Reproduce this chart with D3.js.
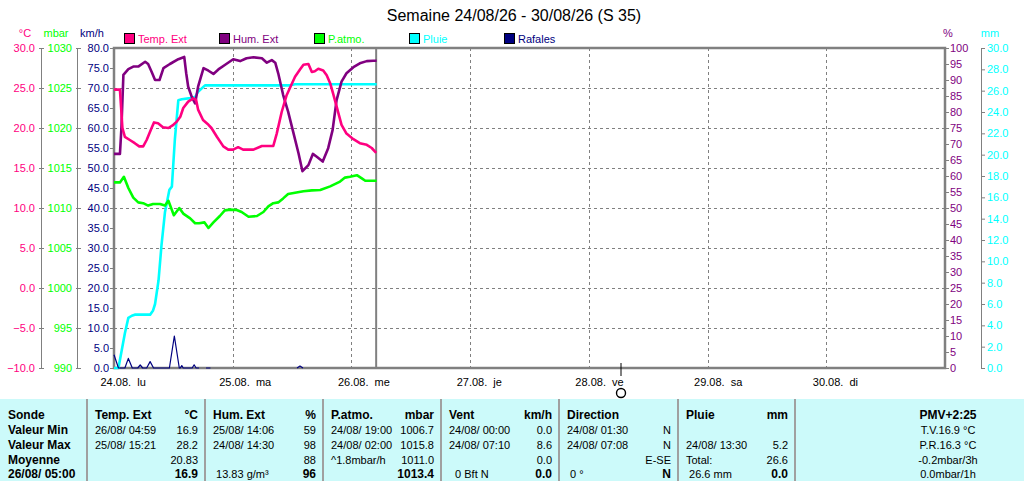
<!DOCTYPE html>
<html>
<head>
<meta charset="utf-8">
<script src="https://cdn.jsdelivr.net/npm/d3@7"></script>
<style>
body { margin: 0; background: #fff; }
svg { display: block; font-family: "Liberation Sans", Arial, sans-serif; }
</style>
</head>
<body>
<div id="chart"></div>
<script>
// Semaine 24/08/26 - 30/08/26, hours from 24/08 00:00
const dayLabels = ['24.08.  lu', '25.08.  ma', '26.08.  me', '27.08.  je', '28.08.  ve', '29.08.  sa', '30.08.  di'];
const nowHour = 53;       // 26/08 05:00
const markerHour = 102.5; // little circle on the time axis

// [hour, value]
const temp = [
  [0, 24.8], [1.2, 24.8], [1.7, 20.0], [2.2, 18.9], [3.2, 18.5], [4.2, 18.1], [5.1, 17.7], [5.9, 17.7],
  [6.6, 18.5], [7.6, 20.0], [8.1, 20.7], [8.9, 20.6], [9.9, 20.1], [11.0, 20.0], [12.0, 20.4], [12.7, 20.8],
  [13.4, 21.4], [14.0, 22.5], [15.0, 23.3], [16.0, 23.7], [16.6, 23.5], [17.0, 22.3], [18.0, 21.0], [19.1, 20.4],
  [19.7, 20.0], [20.8, 18.9], [22.1, 17.7], [23.1, 17.3], [24.1, 17.3], [25.1, 17.6], [26.1, 17.3], [28.2, 17.3],
  [29.9, 17.75], [32.2, 17.75], [32.9, 19.3], [33.9, 22.0], [34.9, 24.1], [36.6, 26.4], [37.6, 27.3], [38.3, 27.9],
  [39.3, 28.0], [40.0, 27.0], [40.6, 27.1], [41.3, 27.4], [42.3, 27.2], [43.0, 26.6], [43.7, 25.6], [44.3, 24.3],
  [45.0, 22.7], [46.0, 20.4], [47.0, 19.3], [48.4, 18.6], [49.7, 18.1], [51.1, 17.9], [52.1, 17.5], [53.0, 16.9]
];
const hum = [
  [0, 66.9], [1.2, 66.9], [1.5, 75.0], [1.9, 91.6], [2.9, 93.4], [3.9, 94.2], [4.9, 94.2], [6.3, 95.7],
  [6.9, 95.0], [7.6, 92.6], [8.3, 90.0], [9.2, 90.0], [10.0, 93.7], [11.3, 95.0], [13.0, 96.5], [14.2, 97.2],
  [14.6, 92.1], [15.0, 87.9], [15.7, 84.8], [16.4, 82.7], [17.0, 87.9], [18.1, 93.7], [19.1, 92.9], [20.1, 91.9],
  [21.1, 93.3], [22.4, 94.7], [24.1, 96.5], [25.5, 95.9], [26.8, 96.8], [28.2, 97.1], [29.9, 96.8], [30.9, 95.4],
  [31.9, 96.2], [32.6, 95.4], [33.2, 92.1], [34.2, 85.3], [35.2, 80.1], [36.3, 73.3], [37.3, 67.1], [38.1, 61.5],
  [39.3, 63.4], [40.2, 66.9], [41.0, 66.0], [42.2, 64.5], [43.3, 68.7], [44.2, 74.4], [45.0, 83.7], [46.0, 89.5],
  [47.0, 92.1], [48.4, 94.0], [49.7, 95.2], [51.1, 95.9], [52.4, 96.0], [53.1, 96.0]
];
const patmo = [
  [0, 1013.2], [1.2, 1013.2], [2.0, 1013.9], [2.9, 1012.5], [3.9, 1011.3], [4.9, 1010.7], [5.9, 1010.6],
  [6.9, 1010.3], [7.9, 1010.5], [9.3, 1010.5], [10.3, 1010.3], [11.0, 1010.9], [12.1, 1009.1], [13.2, 1010.0],
  [14.0, 1009.3], [15.4, 1008.7], [16.4, 1008.1], [17.2, 1008.1], [18.3, 1008.2], [19.1, 1007.5], [20.1, 1008.2],
  [21.4, 1009.0], [22.4, 1009.7], [23.5, 1009.8], [24.8, 1009.75], [25.8, 1009.5], [27.2, 1008.9], [28.9, 1009.0],
  [30.2, 1009.5], [31.2, 1010.2], [32.2, 1010.6], [33.2, 1010.7], [34.2, 1011.2], [35.2, 1011.75], [36.6, 1011.9],
  [38.3, 1012.1], [40.0, 1012.2], [41.7, 1012.25], [43.7, 1012.7], [45.7, 1013.3], [46.7, 1013.8], [47.7, 1013.9],
  [49.1, 1014.1], [50.1, 1013.7], [50.8, 1013.4], [53.1, 1013.4]
];
const pluie = [
  [0, 0], [0.9, 0], [2.2, 3.25], [2.9, 4.7], [3.6, 4.9], [4.2, 5.0], [7.3, 5.0], [7.9, 5.4], [8.3, 6.0],
  [9.0, 8.2], [9.6, 11.5], [10.3, 14.6], [11.2, 16.7], [11.7, 17.0], [12.3, 21.4], [13.0, 25.1], [13.7, 25.2],
  [15.4, 25.3], [16.4, 25.4], [17.0, 25.9], [18.4, 26.5], [35.6, 26.5], [36.6, 26.6], [53.1, 26.6]
];
// null = no value (gap in the line)
const rafales = [
  [0, 3.3], [0.9, 0], [2.2, 0], [2.9, 2.4], [3.7, 0], [4.8, 0], [5.3, 0.75], [5.8, 0], [6.6, 0], [7.3, 1.6],
  [8.0, 0], [11.2, 0], [12.2, 8.0], [13.2, 0], [13.4, 0], [13.7, 0.6], [14.0, 0], [15.8, 0], [16.2, 0.8],
  [16.6, 0], [17.2, 0], [17.3, null], [18.6, 0], [19.5, 0], [19.6, null], [37.0, 0], [37.6, 0.5], [38.2, 0]
];

const legendNames = ['Temp. Ext', 'Hum. Ext', 'P.atmo.', 'Pluie', 'Rafales'];
const colors = ['#ff0080', '#800080', '#00ff00', '#00ffff', '#000080'];

const tempTicks = d3.range(-10, 30.1, 5);
const mbarTicks = d3.range(990, 1030.1, 5);
const kmhTicks = d3.range(0, 80.1, 5);
const humTicks = d3.range(0, 100.1, 5);
const mmTicks = d3.range(0, 30.1, 2);

// bottom table
const tableCols = [0, 87, 205, 323, 441, 559, 678, 795];
const tableHeads = [['Sonde', ''], ['Temp. Ext', '°C'], ['Hum. Ext', '%'], ['P.atmo.', 'mbar'], ['Vent', 'km/h'], ['Direction', ''], ['Pluie', 'mm']];
const rowMin = [['Valeur Min', ''], ['26/08/ 04:59', '16.9'], ['25/08/ 14:06', '59'], ['24/08/ 19:00', '1006.7'], ['24/08/ 00:00', '0.0'], ['24/08/ 01:30', 'N'], ['', '']];
const rowMax = [['Valeur Max', ''], ['25/08/ 15:21', '28.2'], ['24/08/ 14:30', '98'], ['24/08/ 02:00', '1015.8'], ['24/08/ 07:10', '8.6'], ['24/08/ 07:08', 'N'], ['24/08/ 13:30', '5.2']];
const rowAvg = [['Moyenne', ''], ['', '20.83'], ['', '88'], ['^1.8mbar/h', '1011.0'], ['', '0.0'], ['', 'E-SE'], ['Total:', '26.6']];
const rowNow = [['26/08/ 05:00', ''], ['', '16.9'], [' 13.83 g/m³', '96'], ['', '1013.4'], ['  0 Bft N', '0.0'], [' 0 °', 'N'], [' 26.6 mm', '0.0']];
const sideLines = ['PMV+2:25', 'T.V.16.9 °C', 'P.R.16.3 °C', '-0.2mbar/3h', '0.0mbar/1h'];

const width = 1024, height = 481;
const plot = {left: 114, right: 945, top: 48, bottom: 368};

const svg = d3.select('#chart').append('svg')
    .attr('width', width)
    .attr('height', height);

const x = d3.scaleLinear().domain([0, 168]).range([plot.left, plot.right]);
const yT = d3.scaleLinear().domain([-10, 30]).range([plot.bottom, plot.top]);
const yP = d3.scaleLinear().domain([990, 1030]).range([plot.bottom, plot.top]);
const yV = d3.scaleLinear().domain([0, 80]).range([plot.bottom, plot.top]);
const yH = d3.scaleLinear().domain([0, 100]).range([plot.bottom, plot.top]);
const yR = d3.scaleLinear().domain([0, 30]).range([plot.bottom, plot.top]);

// Title
svg.append('text')
    .attr('x', 514).attr('y', 21)
    .attr('text-anchor', 'middle')
    .style('font-size', '16px')
    .text('Semaine 24/08/26 - 30/08/26 (S 35)');

// Grid
const grid = svg.append('g').attr('stroke', '#808080').attr('stroke-dasharray', '3,3');
grid.selectAll('.hg').data(d3.range(10, 80, 10)).enter().append('line')
    .attr('x1', plot.left).attr('x2', plot.right)
    .attr('y1', d => yV(d) + 0.5).attr('y2', d => yV(d) + 0.5);
grid.selectAll('.vg').data(d3.range(24, 168, 24)).enter().append('line')
    .attr('x1', d => Math.round(x(d)) + 0.5).attr('x2', d => Math.round(x(d)) + 0.5)
    .attr('y1', plot.top).attr('y2', plot.bottom);

// Plot frame
svg.append('rect')
    .attr('x', plot.left).attr('y', plot.top)
    .attr('width', plot.right - plot.left).attr('height', plot.bottom - plot.top)
    .attr('fill', 'none').attr('stroke', '#808080').attr('stroke-width', 2.5);

// current time
svg.append('line')
    .attr('x1', x(nowHour)).attr('x2', x(nowHour))
    .attr('y1', plot.top).attr('y2', plot.bottom)
    .attr('stroke', '#808080').attr('stroke-width', 2);

// Axes
function drawAxis(cfg) {
    const g = svg.append('g').attr('transform', `translate(${cfg.x},0)`);
    const axis = (cfg.right ? d3.axisRight(cfg.scale) : d3.axisLeft(cfg.scale))
        .tickValues(cfg.ticks)
        .tickFormat(cfg.format)
        .tickSizeOuter(0);
    g.call(axis).attr('font-family', null).attr('font-size', null);
    g.select('.domain').attr('stroke', cfg.domain ? '#808080' : 'none');
    g.selectAll('.tick line').attr('stroke', '#808080').attr('x1', cfg.t0).attr('x2', cfg.t1);
    g.selectAll('.tick text')
        .attr('x', cfg.tx)
        .attr('fill', cfg.color)
        .attr('text-anchor', cfg.right ? 'start' : 'end')
        .style('font-size', '11px');
}

drawAxis({x: 41, scale: yT, ticks: tempTicks, format: d3.format('.1f'), color: colors[0], domain: true, t0: -2, t1: 3, tx: -6});
drawAxis({x: 77, scale: yP, ticks: mbarTicks, format: d3.format('d'), color: colors[2], domain: true, t0: -1, t1: 4, tx: -5});
drawAxis({x: 114, scale: yV, ticks: kmhTicks, format: d3.format('.1f'), color: colors[4], domain: false, t0: -4, t1: 0, tx: -5});
drawAxis({x: 945, scale: yH, ticks: humTicks, format: d3.format('d'), color: colors[1], domain: false, right: true, t0: 0, t1: 4, tx: 5});
drawAxis({x: 981, scale: yR, ticks: mmTicks, format: d3.format('.1f'), color: colors[3], domain: true, right: true, t0: 0, t1: 4, tx: 6});

// unit labels
const units = [['°C', 25, colors[0]], ['mbar', 56, colors[2]], ['km/h', 92, colors[4]], ['%', 948, colors[1]], ['mm', 990, colors[3]]];
svg.selectAll('.unit').data(units).enter().append('text')
    .attr('x', d => d[1]).attr('y', 37)
    .attr('text-anchor', 'middle')
    .attr('fill', d => d[2])
    .style('font-size', '11px')
    .text(d => d[0]);

// Time axis
const xAxis = d3.axisBottom(x)
    .tickValues(d3.range(0, 168, 24))
    .tickFormat((d, i) => dayLabels[i])
    .tickSize(0);
const gx = svg.append('g')
    .attr('transform', `translate(0,${plot.bottom})`)
    .call(xAxis)
    .attr('font-family', null).attr('font-size', null);
gx.select('.domain').remove();
gx.selectAll('text')
    .attr('text-anchor', 'start')
    .attr('x', -14).attr('y', 18).attr('dy', null)
    .attr('fill', '#000')
    .style('font-size', '11px')
    .style('white-space', 'pre');

// time marker
svg.append('line')
    .attr('x1', x(markerHour)).attr('x2', x(markerHour))
    .attr('y1', 363).attr('y2', 376)
    .attr('stroke', '#000');
svg.append('circle')
    .attr('cx', x(markerHour)).attr('cy', 393).attr('r', 4.5)
    .attr('fill', 'none').attr('stroke', '#000').attr('stroke-width', 1.4);

// Lines
function drawLine(data, yScale, color, w) {
    const line = d3.line()
        .defined(d => d[1] !== null)
        .x(d => x(d[0]))
        .y(d => yScale(d[1]));
    svg.append('path')
        .datum(data)
        .attr('fill', 'none')
        .attr('stroke', color)
        .attr('stroke-width', w)
        .attr('stroke-linejoin', 'round')
        .attr('d', line);
}
drawLine(pluie, yR, colors[3], 2.6);
drawLine(patmo, yP, colors[2], 2.6);
drawLine(hum, yH, colors[1], 2.6);
drawLine(temp, yT, colors[0], 2.6);
drawLine(rafales, yV, colors[4], 1.2);

// Legend
const legend = svg.selectAll('.leg').data(legendNames).enter().append('g')
    .attr('transform', (d, i) => `translate(${124 + i * 95},33)`);
legend.append('rect')
    .attr('x', 0.5).attr('y', 0.5).attr('width', 10).attr('height', 10)
    .attr('fill', (d, i) => colors[i]).attr('stroke', '#000');
legend.append('text')
    .attr('x', 14).attr('y', 9.5)
    .attr('fill', (d, i) => colors[i])
    .style('font-size', '11px')
    .text(d => d);

// Table
const table = svg.append('g');
table.append('rect')
    .attr('x', 0).attr('y', 399).attr('width', width).attr('height', height - 399)
    .attr('fill', '#ccfafa');
table.selectAll('.sep').data(tableCols.slice(1)).enter().append('line')
    .attr('x1', d => d).attr('x2', d => d)
    .attr('y1', 399).attr('y2', height)
    .attr('stroke', '#a0a0a0').attr('stroke-width', 2);

const rows = [tableHeads, rowMin, rowMax, rowAvg, rowNow];
const rowY = [419, 434, 449, 464, 478];
rows.forEach((row, r) => {
    row.forEach((cell, c) => {
        const left = tableCols[c] + 8;
        const right = tableCols[c + 1] - 7;
        const boldLeft = r === 0 || c === 0;
        const boldRight = r === 0 || r === 4;
        table.append('text')
            .attr('x', left).attr('y', rowY[r])
            .style('font-size', boldLeft ? '12px' : '11px')
            .style('font-weight', boldLeft ? 'bold' : 'normal')
            .style('white-space', 'pre')
            .text(cell[0]);
        table.append('text')
            .attr('x', right).attr('y', rowY[r])
            .attr('text-anchor', 'end')
            .style('font-size', boldRight ? '12px' : '11px')
            .style('font-weight', boldRight ? 'bold' : 'normal')
            .text(cell[1]);
    });
});
table.selectAll('.side').data(sideLines).enter().append('text')
    .attr('x', 948).attr('y', (d, i) => rowY[i])
    .attr('text-anchor', 'middle')
    .style('font-size', (d, i) => i === 0 ? '12px' : '11px')
    .style('font-weight', (d, i) => i === 0 ? 'bold' : 'normal')
    .text(d => d);
</script>
</body>
</html>
